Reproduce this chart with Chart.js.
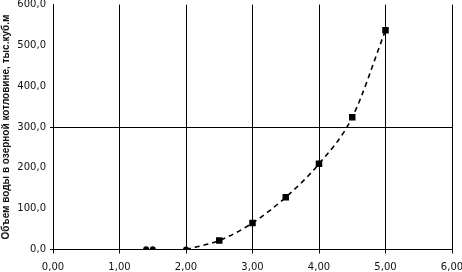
<!DOCTYPE html>
<html>
<head>
<meta charset="utf-8">
<script src="https://cdn.jsdelivr.net/npm/chart.js@4/dist/chart.umd.min.js"></script>
<style>
  html, body { margin: 0; padding: 0; background: #fff; }
  #wrap { width: 462px; height: 272px; }
</style>
</head>
<body>
<div id="wrap"><canvas id="volChart"></canvas></div>
<script>
// measured points (depth, volume)
var depth = [1.4, 1.5, 2.0, 2.5, 3.0, 3.5, 4.0, 4.5, 5.0];
var volume = [0.5, 0.5, 0, 22, 65, 128, 210, 324, 537];
var yTicks = [0, 100, 200, 300, 400, 500, 600];
var xTicks = [0, 1, 2, 3, 4, 5, 6];
var yTitle = "Объем воды в озерной котловине, тыс.куб.м";

// trend line starts at depth 2.0
var trendStart = 2;

function toPoints(xs, ys) {
  var pts = [];
  for (var i = 0; i < xs.length; i++) {
    pts.push({ x: xs[i], y: ys[i] });
  }
  return pts;
}

var tickFont = { family: "DejaVu Sans", size: 10 };

var data1 = {
  datasets: [
    {
      label: "trend",
      data: toPoints(depth.slice(trendStart), volume.slice(trendStart)),
      showLine: true,
      borderColor: "#000",
      borderWidth: 1.6,
      borderDash: [5, 4],
      cubicInterpolationMode: "monotone",
      pointRadius: 0
    },
    {
      label: "points",
      data: toPoints(depth, volume),
      showLine: false,
      backgroundColor: "#000",
      borderColor: "#000",
      borderWidth: 0,
      pointStyle: function(ctx) {
        return ctx.dataIndex < 3 ? "circle" : "rect";
      },
      pointRadius: function(ctx) {
        return ctx.dataIndex < 3 ? 3 : 4.6;
      }
    }
  ]
};

var options = {
  responsive: true,
  maintainAspectRatio: false,
  animation: false,
  layout: { padding: { left: 0, right: 10, top: 4, bottom: 0 } },
  plugins: {
    legend: { display: false },
    tooltip: { enabled: false }
  },
  scales: {
    x: {
      type: "linear",
      min: 0,
      max: 6,
      afterBuildTicks: function(s) {
        s.ticks = xTicks.map(function(v) { return { value: v }; });
      },
      afterFit: function(s) {
        s.height = 22.5;
        s.paddingLeft = 0;
        s.paddingRight = 0;
      },
      grid: {
        color: "#000",
        lineWidth: 1,
        tickLength: 4,
        tickColor: "#000"
      },
      border: { color: "#000" },
      ticks: {
        font: tickFont,
        color: "#111",
        padding: 8,
        maxRotation: 0,
        callback: function(v) { return v.toFixed(2).replace(".", ","); }
      }
    },
    y: {
      min: 0,
      max: 600,
      afterBuildTicks: function(s) {
        s.ticks = yTicks.map(function(v) { return { value: v }; });
      },
      afterFit: function(s) {
        s.width = 53;
        s.paddingTop = 0;
        s.paddingBottom = 0;
      },
      grid: {
        color: function(ctx) {
          return ctx.tick && (ctx.tick.value === 300 || ctx.tick.value === 0) ? "#000" : "rgba(0,0,0,0)";
        },
        lineWidth: 1,
        tickLength: 3
      },
      border: { color: "#000" },
      title: {
        display: true,
        text: yTitle,
        color: "#111",
        font: { family: "Liberation Sans", size: 10, weight: "bold" },
        padding: 0
      },
      ticks: {
        font: tickFont,
        color: "#111",
        padding: 4,
        callback: function(v) { return v.toFixed(1).replace(".", ","); }
      }
    }
  }
};

var chart1 = new Chart(document.getElementById("volChart"), {
  type: "scatter",
  data: data1,
  options: options
});
</script>
</body>
</html>
